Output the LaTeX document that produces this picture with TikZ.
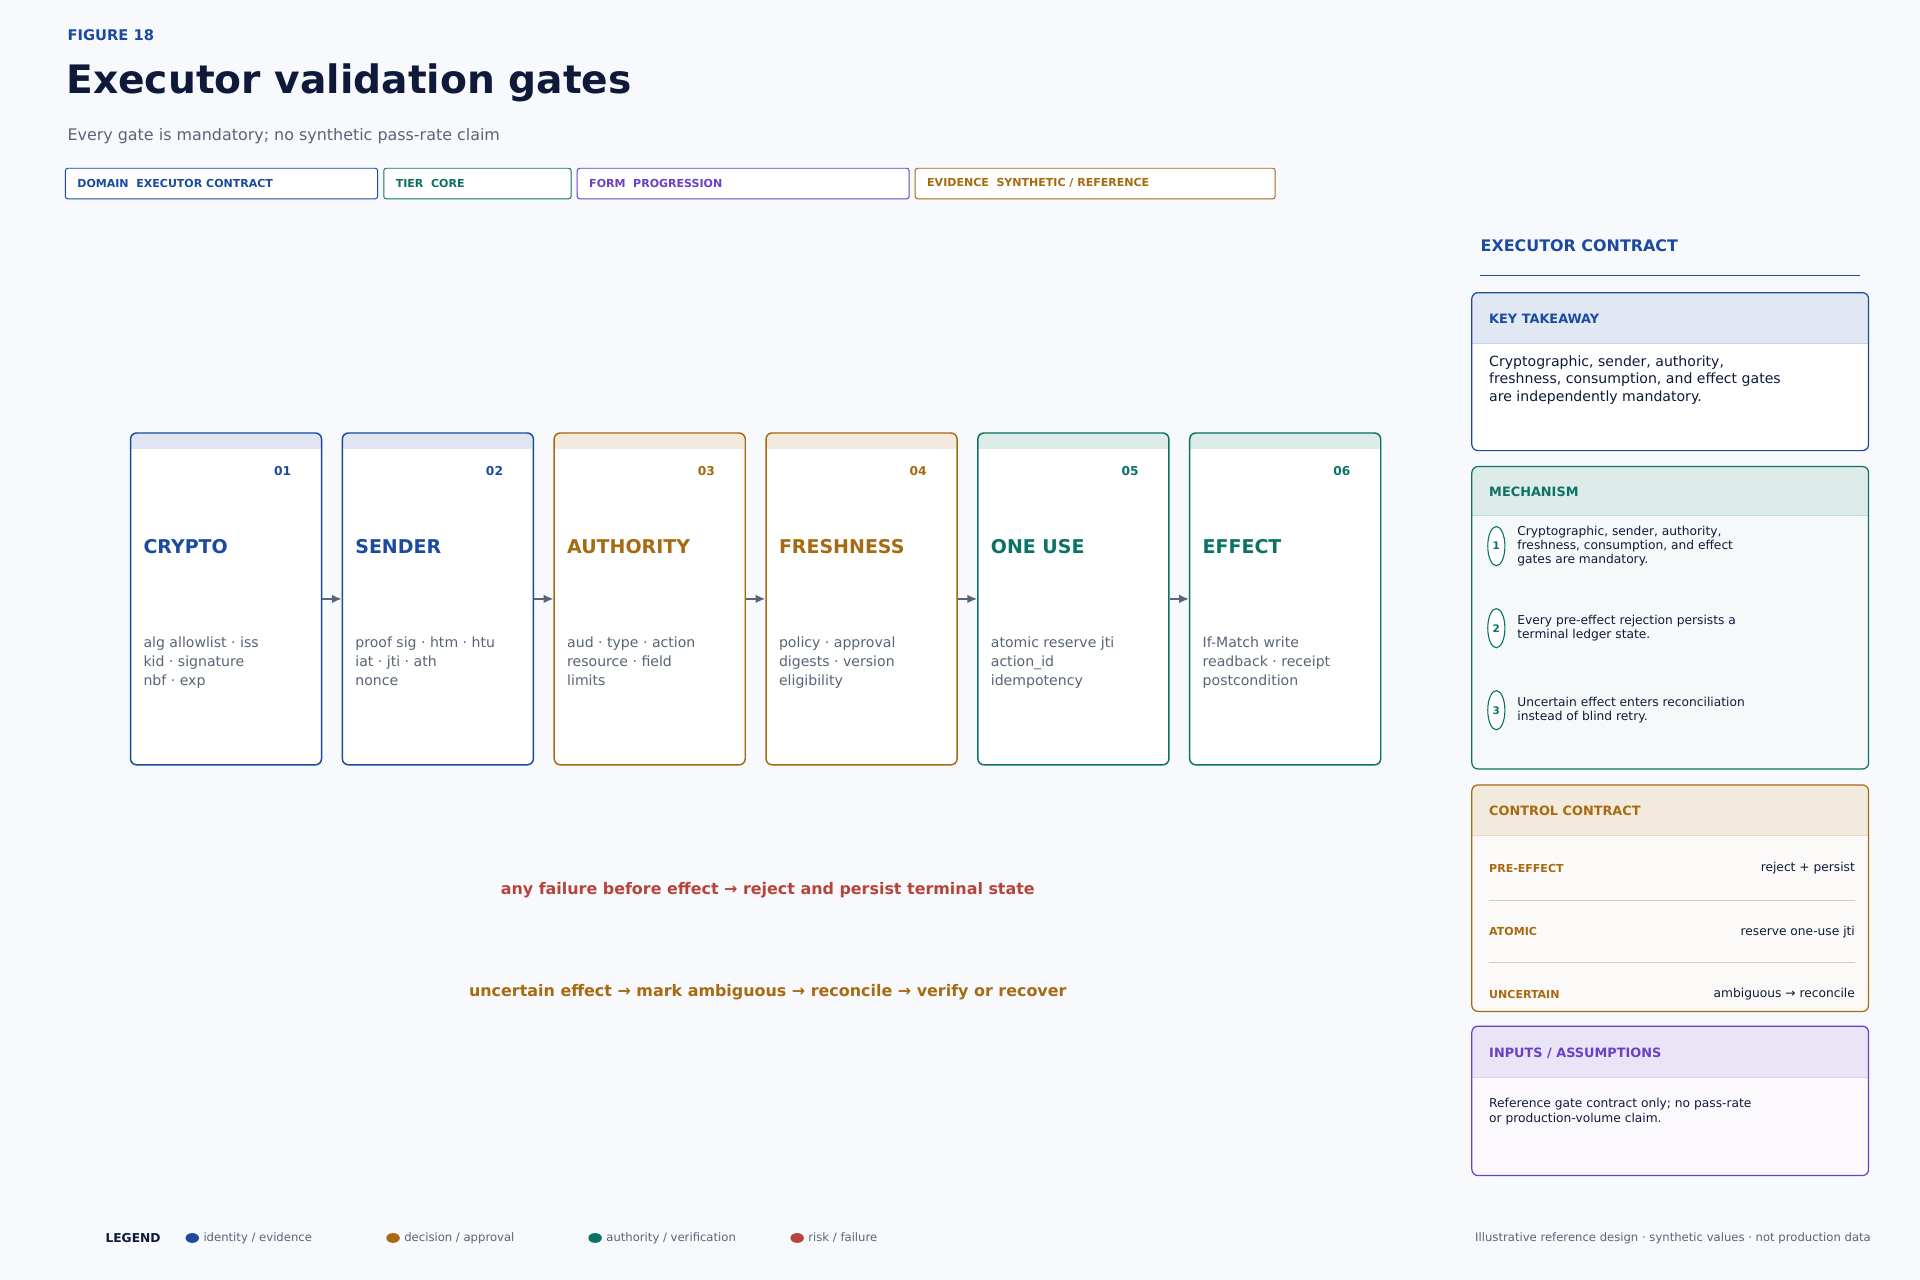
\documentclass[tikz,border=0pt]{standalone}
\usepackage{fontspec}
\usetikzlibrary{arrows.meta}
\setmainfont{DejaVu Sans}
\begin{document}
\definecolor{cblue}{HTML}{1A4BA0}
\definecolor{camber}{HTML}{A66A10}
\definecolor{cteal}{HTML}{0B7265}
\definecolor{cpurple}{HTML}{6B3FC8}
\definecolor{cred}{HTML}{B5443A}
\definecolor{cgray}{HTML}{5A6478}
\definecolor{cdark}{HTML}{0F1A3A}
\definecolor{bg}{HTML}{F8F9FC}
\begin{tikzpicture}[x=1pt,y=-1pt,
 tag/.style={draw=#1,rounded corners=2pt,line width=0.8pt,fill=white,minimum height=25pt,anchor=north west,inner sep=0pt},
 tagt/.style={text=#1,font=\fontsize{9}{10}\selectfont\bfseries,anchor=west},
 card/.style={draw=#1,rounded corners=5pt,line width=1.2pt},
 arr/.style={-{Latex[length=8pt,width=7pt]},draw=cgray,line width=1.3pt},
 desc/.style={text=cgray,font=\fontsize{11.5}{15.5}\selectfont,anchor=north west,align=left,inner sep=0pt},
 ptitle/.style={font=\fontsize{10.5}{12}\selectfont\bfseries,anchor=west,inner sep=0pt},
 small/.style={font=\fontsize{9.5}{11}\selectfont,anchor=north west,align=left,inner sep=0pt,text=cdark}]
\useasboundingbox (0,0) rectangle (1568,1045);
\fill[bg] (0,0) rectangle (1568,1045);
\node[anchor=west,text=cblue,font=\fontsize{12}{14}\selectfont\bfseries,inner sep=0pt] (fig) at (55,29) {FIGURE 18};
\node[anchor=west,text=cdark,font=\fontsize{32}{38}\selectfont\bfseries,inner sep=0pt] (title) at (54,68) {Executor validation gates};
\node[anchor=west,text=cgray,font=\fontsize{13}{15}\selectfont,inner sep=0pt] (sub) at (55,111) {Every gate is mandatory; no synthetic pass-rate claim};
% tags
\node[tag=cblue,minimum width=255pt] (t1) at (53,137) {};
\node[tagt=cblue,inner sep=0pt] at (63,149.5) {DOMAIN\ \ EXECUTOR CONTRACT};
\node[tag=cteal,minimum width=153pt] (t2) at (313,137) {};
\node[tagt=cteal,inner sep=0pt] at (323,149.5) {TIER\ \ CORE};
\node[tag=cpurple,minimum width=271pt] (t3) at (471,137) {};
\node[tagt=cpurple,inner sep=0pt] at (481,149.5) {FORM\ \ PROGRESSION};
\node[tag=camber,minimum width=294pt] (t4) at (747,137) {};
\node[tagt=camber,inner sep=0pt] at (757,149.5) {EVIDENCE\ \ SYNTHETIC / REFERENCE};
% cards
\foreach \i/\x/\c/\t/\n/\d in {
 1/106/cblue/CRYPTO/01/{alg allowlist · iss\\kid · signature\\nbf · exp},
 2/279/cblue/SENDER/02/{proof sig · htm · htu\\iat · jti · ath\\nonce},
 3/452/camber/AUTHORITY/03/{aud · type · action\\resource · field\\limits},
 4/625/camber/FRESHNESS/04/{policy · approval\\digests · version\\eligibility},
 5/798/cteal/ONE USE/05/{atomic reserve jti\\action\_id\\idempotency},
 6/971/cteal/EFFECT/06/{If-Match write\\readback · receipt\\postcondition}}{
 \begin{scope}
 \clip[rounded corners=5pt] (\x,353) rectangle (\x+156,624);
 \fill[white] (\x,353) rectangle (\x+156,624);
 \fill[\c!14] (\x,353) rectangle (\x+156,367);
 \end{scope}
 \node[card=\c,minimum width=156pt,minimum height=271pt,anchor=north west,inner sep=0pt] (c\i) at (\x,353) {};
 \node[text=\c,font=\fontsize{10}{11}\selectfont\bfseries,anchor=east,inner sep=0pt] at (\x+132,385) {\n};
 \node[text=\c,font=\fontsize{15.5}{18}\selectfont\bfseries,anchor=west,inner sep=0pt] at (\x+11,446) {\t};
 \node[desc] at (\x+11,520) {\d};
}
\foreach \a/\b in {1/2,2/3,3/4,4/5,5/6} \draw[arr] (c\a.east) -- (c\b.west);
\node[text=cred,font=\fontsize{13}{15}\selectfont\bfseries] (fail) at (627,727) {any failure before effect → reject and persist terminal state};
\node[text=camber,font=\fontsize{13}{15}\selectfont\bfseries] (unc) at (627,810) {uncertain effect → mark ambiguous → reconcile → verify or recover};
% right panel
\node[anchor=west,text=cblue,font=\fontsize{13}{15}\selectfont\bfseries,inner sep=0pt] (ec) at (1209,201) {EXECUTOR CONTRACT};
\draw[cblue,line width=1pt] (1209,225) -- (1519,225);
\newcommand{\panel}[6]{%
 \begin{scope}
 \clip[rounded corners=5pt] (1202,#1) rectangle (1526,#2);
 \fill[#6] (1202,#1) rectangle (1526,#2);
 \fill[#5] (1202,#1) rectangle (1526,#3);
 \draw[#4!25] (1202,#3) -- (1526,#3);
 \end{scope}
 \draw[#4,rounded corners=5pt,line width=1pt] (1202,#1) rectangle (1526,#2);}
\panel{239}{368}{280}{cblue}{cblue!13}{white}
\node[ptitle,text=cblue] (kt) at (1216,260) {KEY TAKEAWAY};
\node[small,font=\fontsize{11.5}{14.5}\selectfont] (ktt) at (1216,290) {Cryptographic, sender, authority,\\freshness, consumption, and effect gates\\are independently mandatory.};
\panel{381}{628}{421}{cteal}{cteal!14}{cteal!4}
\node[ptitle,text=cteal] (mech) at (1216,402) {MECHANISM};
\foreach \k/\y/\tx in {1/446/{Cryptographic, sender, authority,\\freshness, consumption, and effect\\gates are mandatory.},2/513/{Every pre-effect rejection persists a\\terminal ledger state.},3/580/{Uncertain effect enters reconciliation\\instead of blind retry.}}{
 \draw[cteal,fill=white,line width=0.9pt] (1222,\y) ellipse (7 and 16);
 \node[text=cteal,font=\fontsize{8.5}{9}\selectfont\bfseries] (m\k) at (1222,\y) {\k};
 \node[small,font=\fontsize{10}{11.5}\selectfont,anchor=west] at (1239,\y) {\tx};
}
\panel{641}{826}{682}{camber}{camber!14}{camber!3}
\node[ptitle,text=camber] (cc) at (1216,662) {CONTROL CONTRACT};
\foreach \y/\l/\r in {709/PRE-EFFECT/reject + persist,761/ATOMIC/reserve one-use jti,812/UNCERTAIN/ambiguous → reconcile}{
 \node[text=camber,font=\fontsize{9}{10}\selectfont\bfseries,anchor=west,inner sep=0pt] at (1216,\y) {\l};
 \node[text=cdark,font=\fontsize{10}{11}\selectfont,anchor=east,inner sep=0pt] at (1515,\y) {\r};
}
\draw[black!20] (1216,735) -- (1515,735);
\draw[black!20] (1216,786) -- (1515,786);
\panel{838}{960}{880}{cpurple}{cpurple!14}{cpurple!3}
\node[ptitle,text=cpurple] (in) at (1216,860) {INPUTS / ASSUMPTIONS};
\node[small,font=\fontsize{10}{11.5}\selectfont] (intx) at (1216,897) {Reference gate contract only; no pass-rate\\or production-volume claim.};
% legend
\node[anchor=west,text=cdark,font=\fontsize{10}{11}\selectfont\bfseries,inner sep=0pt] (lg) at (86,1011) {LEGEND};
\foreach \x/\c/\t in {157/cblue/{identity / evidence},321/camber/{decision / approval},486/cteal/{authority / verification},651/cred/{risk / failure}}{
 \fill[\c] (\x,1011) ellipse (5.5 and 4);
 \node[anchor=west,text=cgray,font=\fontsize{9.5}{11}\selectfont,inner sep=0pt] at (\x+9,1011) {\t};
}
\node[anchor=east,text=cgray,font=\fontsize{9.5}{11}\selectfont,inner sep=0pt] (foot) at (1528,1011) {Illustrative reference design · synthetic values · not production data};
\end{tikzpicture}
\end{document}
